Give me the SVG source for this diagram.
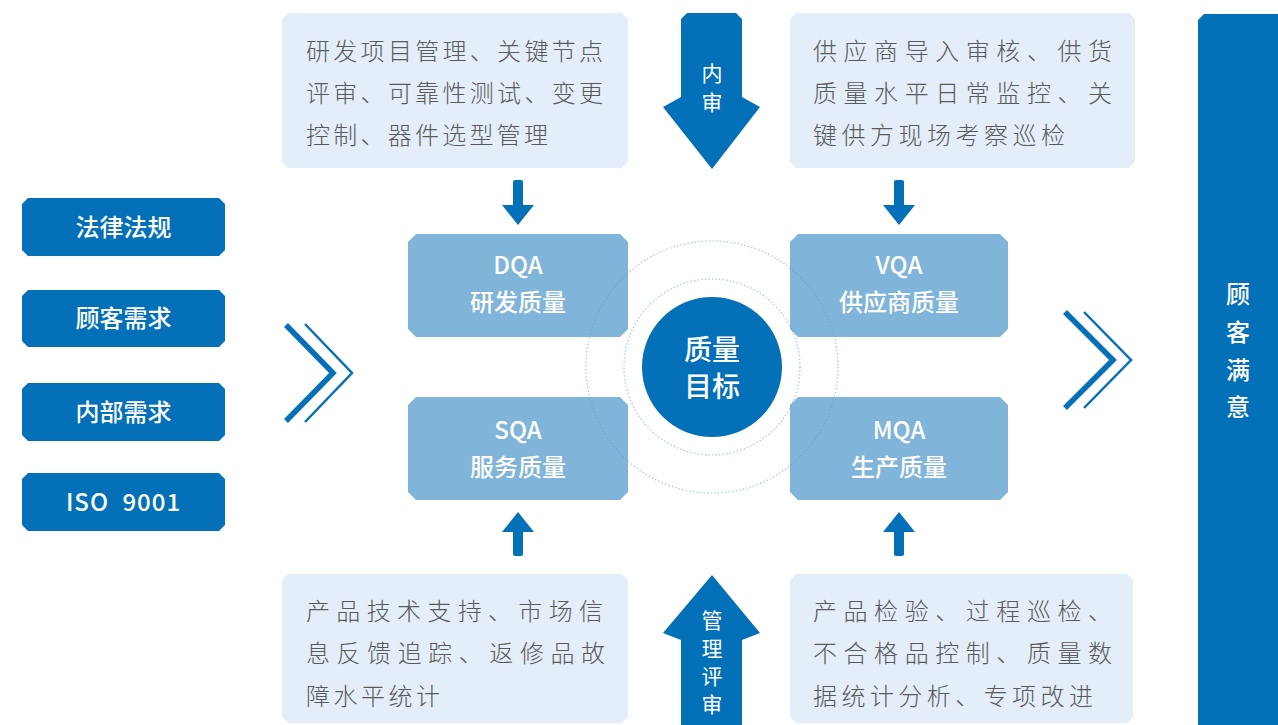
<svg xmlns="http://www.w3.org/2000/svg" width="1278" height="725" viewBox="0 0 1278 725">
<style>
.dark{fill:#0470b8}
.mid{fill:#80b4d9}
.pale{fill:#e4eef8}
.wt{fill:#fff;font-family:"Noto Sans CJK SC","Noto Sans",sans-serif;font-size:24px;text-anchor:middle;font-weight:500}
.vt{fill:#fff;font-family:"Noto Sans CJK SC",sans-serif;font-size:21px;text-anchor:middle;font-weight:400}
.gt{fill:#5a5a5a;font-family:"Noto Sans CJK SC","Noto Sans",sans-serif;font-size:24px;font-weight:300}
.ct{fill:#fff;font-family:"Noto Sans CJK SC",sans-serif;font-size:28px;text-anchor:middle;font-weight:500}
.chev{fill:none;stroke:#0470b8;stroke-linejoin:miter}
.dot{fill:none;stroke:#5d9fd2;stroke-width:1.2;stroke-dasharray:1.2 2.4;opacity:0.7}
</style>
<rect width="1278" height="725" fill="#fff"/>
<g id="inputs">
<g id="n-law"><path class="dark" d="M28,198 H219 L225,204 V250 L219,256 H28 L22,250 V204Z"/><text class="wt" x="123.5" y="236">法律法规</text></g>
<g id="n-customer"><path class="dark" d="M28,290 H219 L225,296 V341 L219,347 H28 L22,341 V296Z"/><text class="wt" x="123.5" y="327">顾客需求</text></g>
<g id="n-internal"><path class="dark" d="M28,383 H219 L225,389 V435 L219,441 H28 L22,435 V389Z"/><text class="wt" x="123.5" y="421">内部需求</text></g>
<g id="n-iso"><path class="dark" d="M28,473 H219 L225,479 V525 L219,531 H28 L22,525 V479Z"/><text class="wt" x="123.5" y="511" font-weight="400" letter-spacing="1" word-spacing="7">ISO 9001</text></g>
</g>
<g id="n-tl"><path class="pale" d="M288,13 H622 L628,19 V162 L622,168 H288 L282,162 V19Z"/>
<text class="gt" x="306" y="60" textLength="297" lengthAdjust="spacing">研发项目管理、关键节点</text>
<text class="gt" x="306" y="102" textLength="297" lengthAdjust="spacing">评审、可靠性测试、变更</text>
<text class="gt" x="306" y="144" textLength="242" lengthAdjust="spacing">控制、器件选型管理</text></g>
<g id="n-tr"><path class="pale" d="M796,13 H1129 L1135,19 V162 L1129,168 H796 L790,162 V19Z"/>
<text class="gt" x="813" y="60" textLength="299" lengthAdjust="spacing">供应商导入审核、供货</text>
<text class="gt" x="813" y="102" textLength="299" lengthAdjust="spacing">质量水平日常监控、关</text>
<text class="gt" x="813" y="144" textLength="252" lengthAdjust="spacing">键供方现场考察巡检</text></g>
<g id="n-bl"><path class="pale" d="M288,574 H622 L628,580 V717 L622,723 H288 L282,717 V580Z"/>
<text class="gt" x="306" y="620" textLength="297" lengthAdjust="spacing">产品技术支持、市场信</text>
<text class="gt" x="306" y="662" textLength="299" lengthAdjust="spacing">息反馈追踪、返修品故</text>
<text class="gt" x="306" y="705" textLength="134" lengthAdjust="spacing">障水平统计</text></g>
<g id="n-br"><path class="pale" d="M796,574 H1127 L1133,580 V717 L1127,723 H796 L790,717 V580Z"/>
<text class="gt" x="813" y="620" textLength="299" lengthAdjust="spacing">产品检验、过程巡检、</text>
<text class="gt" x="813" y="662" textLength="299" lengthAdjust="spacing">不合格品控制、质量数</text>
<text class="gt" x="813" y="705" textLength="280" lengthAdjust="spacing">据统计分析、专项改进</text></g>
<g id="n-dqa"><path class="mid" d="M416,234 H620 L628,242 V329 L620,337 H416 L408,329 V242Z"/><text class="wt" x="518" y="274" font-weight="400">DQA</text><text class="wt" x="518" y="311" font-weight="400">研发质量</text></g>
<g id="n-vqa"><path class="mid" d="M798,234 H1000 L1008,242 V329 L1000,337 H798 L790,329 V242Z"/><text class="wt" x="899" y="274" font-weight="400">VQA</text><text class="wt" x="899" y="311" font-weight="400">供应商质量</text></g>
<g id="n-sqa"><path class="mid" d="M416,397 H620 L628,405 V492 L620,500 H416 L408,492 V405Z"/><text class="wt" x="518" y="439" font-weight="400">SQA</text><text class="wt" x="518" y="476" font-weight="400">服务质量</text></g>
<g id="n-mqa"><path class="mid" d="M798,397 H1000 L1008,405 V492 L1000,500 H798 L790,492 V405Z"/><text class="wt" x="899" y="439" font-weight="400">MQA</text><text class="wt" x="899" y="476" font-weight="400">生产质量</text></g>
<g id="rings"><circle class="dot" cx="712" cy="367" r="126"/><circle class="dot" cx="712" cy="367" r="88"/></g>
<g id="n-goal"><circle class="dark" cx="712" cy="367" r="70"/><text class="ct" x="712" y="360">质量</text><text class="ct" x="712" y="397">目标</text></g>
<g id="n-audit"><path class="dark" d="M687,13 H736 L742,19 V97 L760,107 L712,169 L663,107 L681,97 V19Z"/><text class="vt" x="712" y="81" font-size="23">内</text><text class="vt" x="712" y="110" font-size="23">审</text></g>
<g id="n-review"><path class="dark" d="M712,575 L760,633 L742,640 V725 H681 V640 L663,633Z"/><text class="vt" x="712" y="628">管</text><text class="vt" x="712" y="656">理</text><text class="vt" x="712" y="684">评</text><text class="vt" x="712" y="712">审</text></g>
<g id="n-satisfaction"><path class="dark" d="M1204,14 H1278 V725 H1198 V20Z"/><text class="wt" x="1238" y="303" font-weight="400">顾</text><text class="wt" x="1238" y="341" font-weight="400">客</text><text class="wt" x="1238" y="379" font-weight="400">满</text><text class="wt" x="1238" y="416" font-weight="400">意</text></g>
<g id="connectors">
<polyline class="chev" stroke-width="5.5" points="286,325 333,373 286,421"/>
<polyline class="chev" stroke-width="2.5" points="305,324 352,373 305,422"/>
<polyline class="chev" stroke-width="5.5" points="1065,312 1113,360 1065,408"/>
<polyline class="chev" stroke-width="2.5" points="1084,312 1131,360 1084,408"/>
<rect class="dark" x="513" y="180" width="10" height="27" rx="2"/><polygon class="dark" points="502,205 534,205 518,225"/>
<rect class="dark" x="894" y="180" width="10" height="27" rx="2"/><polygon class="dark" points="883,205 915,205 899,225"/>
<rect class="dark" x="513" y="529" width="10" height="27" rx="2"/><polygon class="dark" points="518,512 502,532 534,532"/>
<rect class="dark" x="894" y="529" width="10" height="27" rx="2"/><polygon class="dark" points="899,512 883,532 915,532"/>
</g>
</svg>
